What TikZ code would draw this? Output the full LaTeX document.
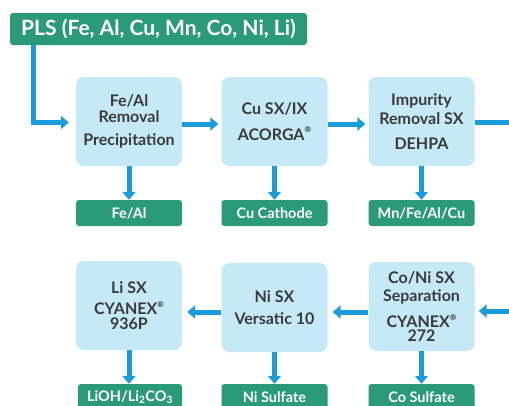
\documentclass[tikz,border=0pt]{standalone}
\usepackage{fontspec}
\setmainfont{Lato}
\usetikzlibrary{arrows.meta}
\definecolor{boxblue}{HTML}{C6E9F8}
\definecolor{outgreen}{HTML}{2B9A78}
\definecolor{arrblue}{HTML}{1A9BDB}
\definecolor{txtgray}{HTML}{3A3A3A}
\newcommand{\regmark}{\raisebox{0.45em}{\fontsize{8}{8}\selectfont ®}}
\begin{document}
\begin{tikzpicture}[x=1pt,y=-1pt,
 proc/.style={fill=boxblue, rounded corners=8pt, minimum width=106pt, minimum height=89pt, inner sep=0pt, align=center, text=txtgray, font=\fontsize{16}{15.5}\selectfont\bfseries},
 outbox/.style={fill=outgreen, rounded corners=3pt, minimum width=106pt, minimum height=26pt, inner sep=0pt, text=white, font=\fontsize{14.5}{16}\selectfont\bfseries},
 arr/.style={draw=arrblue, line width=5pt, -{Triangle[width=13pt,length=8pt]}},
 link/.style={draw=arrblue, line width=5pt}]
\useasboundingbox[fill=white] (0,0) rectangle (509,405);

% source
\node[fill=outgreen, rounded corners=3pt, minimum width=297pt, minimum height=32pt, inner sep=0pt, text=white, font=\fontsize{21}{24}\selectfont\bfseries] (pls) at (158.5,29) {PLS (Fe, Al, Cu, Mn, Co, Ni, Li)};

% row 1
\node[proc] (b1) at (129,121.5) {Fe/Al\\Removal\\[8pt]Precipitation};
\node[proc] (b2) at (274.5,121.5) {Cu SX/IX\\[10pt]ACORGA\regmark};
\node[proc] (b3) at (421.5,121.5) {Impurity\\[4pt]Removal SX\\[9pt]DEHPA};

\node[outbox] (g1) at (129,213) {Fe/Al};
\node[outbox] (g2) at (274.5,213) {Cu Cathode};
\node[outbox] (g3) at (421.5,213) {Mn/Fe/Al/Cu};

% row 2
\node[proc] (b4) at (129,305.5) {Li SX\\[6pt]CYANEX\regmark\\[-1pt]936P};
\node[proc] (b5) at (274.5,307.5) {Ni SX\\[6pt]Versatic 10};
\node[proc] (b6) at (421.5,306.5) {Co/Ni SX\\[3pt]Separation\\[9pt]CYANEX\regmark\\[-1pt]272};

\node[outbox, minimum width=104pt] (g4) at (130,397) {LiOH/Li\textsubscript{2}CO\textsubscript{3}};
\node[outbox] (g5) at (274.5,397) {Ni Sulfate};
\node[outbox] (g6) at (421.5,397) {Co Sulfate};

% connectors
\coordinate (plsdrop) at (33.5,45);
\coordinate (redge) at (516,0);
\draw[arr, shorten >=7pt] (plsdrop) |- ([yshift=-1pt]b1.west);
\draw[arr, shorten >=3pt] ([yshift=-2.5pt]b1.east) -- ([yshift=-2.5pt]b2.west);
\draw[arr, shorten >=3pt] ([yshift=-2.5pt]b2.east) -- ([yshift=-2.5pt]b3.west);
\draw[arr, shorten >=4pt] ([yshift=-1pt]b3.east) -- ([yshift=-1pt]b3.east -| redge) -- ([yshift=-4.5pt]b6.east -| redge) -- ([yshift=-4.5pt]b6.east);
\draw[arr, shorten >=5pt] ([yshift=-5.5pt]b6.west) -- ([yshift=-4.5pt]b5.east);
\draw[arr, shorten >=5pt] ([yshift=-4.5pt]b5.west) -- ([yshift=-4.5pt]b5.west -| b4.east);

\draw[arr] (b1.south) -- (g1.north);
\draw[arr] (b2.south) -- (g2.north);
\draw[arr] (b3.south) -- (g3.north);
\draw[arr] (b4.south) -- (g4.north -| b4.south);
\draw[arr] (b5.south) -- (g5.north);
\draw[arr] (b6.south) -- (g6.north);
\end{tikzpicture}
\end{document}
